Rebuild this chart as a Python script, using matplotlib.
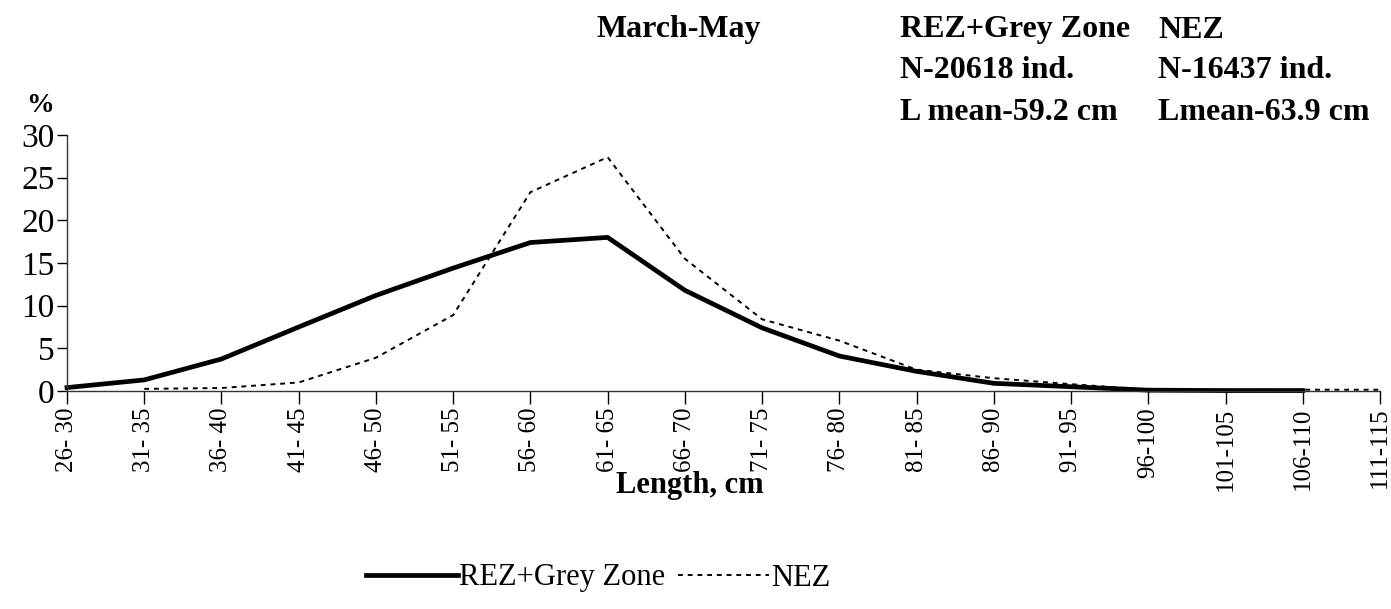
import numpy as np
import matplotlib
matplotlib.use("Agg")
import matplotlib.pyplot as plt
from matplotlib.lines import Line2D

categories = ["26- 30", "31- 35", "36- 40", "41- 45", "46- 50", "51- 55", "56- 60",
              "61- 65", "66- 70", "71- 75", "76- 80", "81- 85", "86- 90", "91- 95",
              "96-100", "101-105", "106-110", "111-115"]
rez_grey = [0.4, 1.3, 3.75, 7.5, 11.2, 14.4, 17.4, 18.0, 11.8, 7.4, 4.1, 2.3, 0.9, 0.5,
            0.1, 0.05, 0.05, np.nan]
nez = [np.nan, 0.25, 0.35, 1.0, 3.9, 8.9, 23.3, 27.4, 15.5, 8.4, 5.9, 2.5, 1.5, 0.8,
       0.15, 0.15, 0.15, 0.15]

plt.rcParams['font.family'] = ['Liberation Serif', 'DejaVu Serif']

fig = plt.figure(figsize=(13.91, 6.09), dpi=100)
ax = fig.add_axes([67/1391, 1-391/609, (1380-67)/1391, (391-135)/609])

x = np.arange(len(categories))
ax.plot(x, rez_grey, color='black', lw=3.4, solid_joinstyle='round', clip_on=False)
ax.plot(x, nez, color='black', lw=1.4, linestyle=(0, (2.5, 2.5)), clip_on=False)

ax.set_xlim(0, len(categories)-1)
ax.set_ylim(0, 30)
ax.set_yticks(np.arange(0, 31, 5))
ax.set_xticks(x)
ax.set_xticklabels(categories, rotation=90, fontsize=18)
ax.tick_params(axis='y', labelsize=24, direction='out', length=7, width=1, pad=2)
ax.tick_params(axis='x', direction='out', length=9, width=1, pad=3)
for s in ['top', 'right']:
    ax.spines[s].set_visible(False)
for s in ['left', 'bottom']:
    ax.spines[s].set_linewidth(1)
    ax.spines[s].set_color('#333333')

fig.text(40/1391, 1-106/609, "%", fontsize=20, fontweight='bold', ha='center', va='center')
fig.text(679/1391, 1-30/609, "March-May", fontsize=23, fontweight='bold', ha='center', va='center')
rows = [("REZ+Grey Zone", "NEZ"), ("N-20618 ind.", "N-16437 ind."),
        ("L mean-59.2 cm", "Lmean-63.9 cm")]
for i, (a, b) in enumerate(rows):
    yy = 1 - (30 + i*41)/609
    fig.text(900/1391, yy, a, fontsize=23, fontweight='bold', ha='left', va='center')
    fig.text(1158/1391, yy, b, fontsize=23, fontweight='bold', ha='left', va='center')

fig.text(690/1391, 1-486/609, "Length, cm", fontsize=22, fontweight='bold', ha='center', va='center')

handles = [Line2D([], [], color='black', lw=3.4),
           Line2D([], [], color='black', lw=1.4, linestyle=(0, (2.5, 2.5)))]
fig.legend(handles, ["REZ+Grey Zone", "NEZ"], loc='center', bbox_to_anchor=(598/1391, 1-578/609),
           ncol=2, frameon=False, fontsize=22, handlelength=3.0, handletextpad=0.05,
           columnspacing=0.4, borderpad=0, borderaxespad=0)

fig.savefig("out.png", dpi=100)
